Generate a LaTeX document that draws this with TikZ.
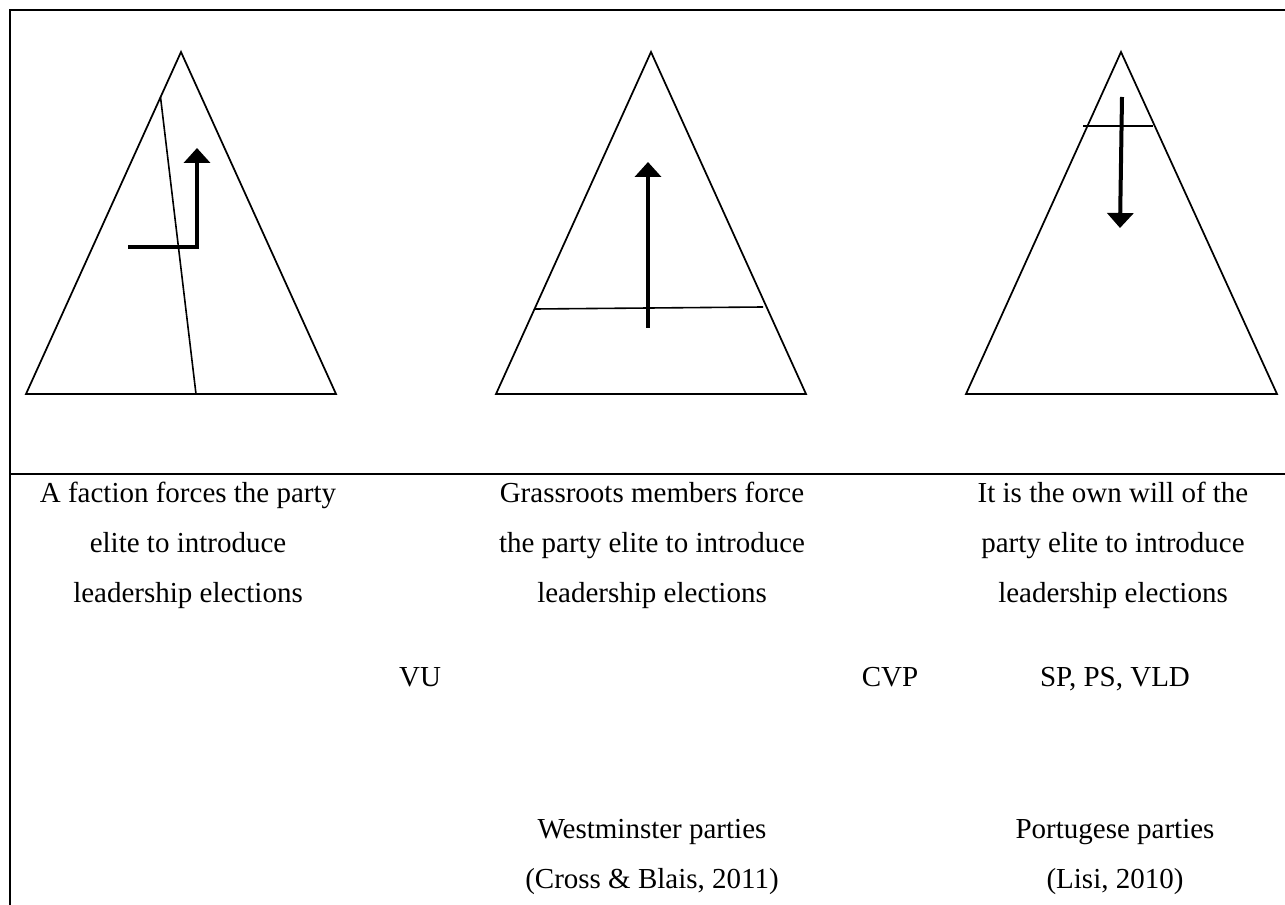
\documentclass[tikz,border=0pt]{standalone}
\usepackage{fontspec}
\setmainfont{Liberation Serif}
\usetikzlibrary{arrows.meta}
\begin{document}
\begin{tikzpicture}[x=0.75pt,y=-0.75pt,
  frame/.style={line width=1.5pt},
  tri/.style={line width=1.3pt, line join=miter},
  split/.style={line width=1.2pt},
  bigarrow/.style={line width=3pt, line join=miter, -{Triangle[width=19.5pt,length=11.25pt]}},
  txt/.style={anchor=base, inner sep=0pt, font=\fontsize{21.75}{26}\selectfont}]
\useasboundingbox (0,0) rectangle (1285,905);
% frame
\coordinate (TL) at (10,10);
\coordinate (TR) at (1285,10);
\coordinate (BL) at (10,905);
\coordinate (DL) at (10,474);
\coordinate (DR) at (1285,474);
\draw[frame] (TR) -- (TL) -- (BL);
\draw[frame] (DL) -- (DR);
% triangle 1
\coordinate (A1) at (181,52);
\coordinate (L1) at (26,394);
\coordinate (R1) at (336,394);
\draw[tri] (A1) -- (L1) -- (R1) -- cycle;
\coordinate (s1a) at (160.5,97);
\coordinate (s1b) at (196,394);
\draw[split] (s1a) -- (s1b);
\coordinate (a1s) at (128,247);
\coordinate (a1m) at (197,247);
\coordinate (a1e) at (197,148);
\draw[bigarrow] (a1s) -- (a1m) -- (a1e);
% triangle 2
\coordinate (A2) at (651,52);
\coordinate (L2) at (496,394);
\coordinate (R2) at (806,394);
\draw[tri] (A2) -- (L2) -- (R2) -- cycle;
\coordinate (s2a) at (535,309);
\coordinate (s2b) at (763,307);
\draw[split] (s2a) -- (s2b);
\coordinate (a2s) at (648,328);
\coordinate (a2e) at (648,162);
\draw[bigarrow] (a2s) -- (a2e);
% triangle 3
\coordinate (A3) at (1121,52);
\coordinate (L3) at (966,394);
\coordinate (R3) at (1277,394);
\draw[tri] (A3) -- (L3) -- (R3) -- cycle;
\coordinate (s3a) at (1083,126);
\coordinate (s3b) at (1153,126);
\draw[split] (s3a) -- (s3b);
\coordinate (a3s) at (1122,97);
\coordinate (a3e) at (1120,228);
\draw[bigarrow] (a3s) -- (a3e);
% texts column 1
\node[txt] (c1a) at (188,502) {A faction forces the party};
\node[txt] (c1b) at (188,552) {elite to introduce};
\node[txt] (c1c) at (188,602) {leadership elections};
% column 2
\node[txt] (c2a) at (652,502) {Grassroots members force};
\node[txt] (c2b) at (652,552) {the party elite to introduce};
\node[txt] (c2c) at (652,602) {leadership elections};
% column 3
\node[txt] (c3a) at (1113,502) {It is the own will of the};
\node[txt] (c3b) at (1113,552) {party elite to introduce};
\node[txt] (c3c) at (1113,602) {leadership elections};
% parties
\node[txt] (vu) at (420,686) {VU};
\node[txt] (cvp) at (890,686) {CVP};
\node[txt] (sp) at (1115,686) {SP, PS, VLD};
\node[txt] (wm) at (652,838) {Westminster parties};
\node[txt] (cb) at (652,888) {(Cross \& Blais, 2011)};
\node[txt] (pt) at (1115,838) {Portugese parties};
\node[txt] (ls) at (1115,888) {(Lisi, 2010)};
\end{tikzpicture}
\end{document}
